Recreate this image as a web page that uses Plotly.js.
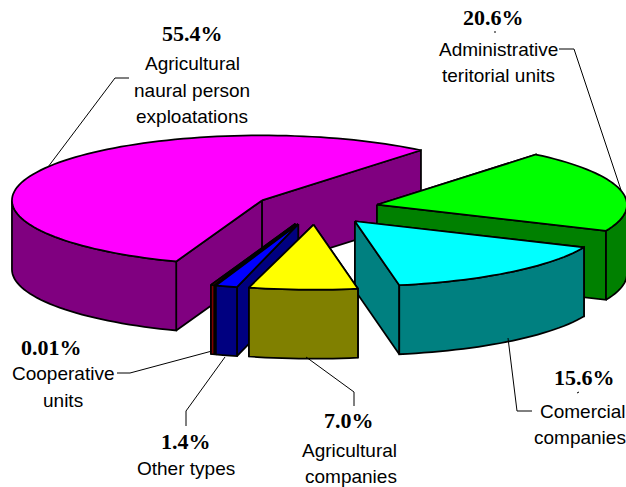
<!DOCTYPE html>
<html><head><meta charset="utf-8">
<script src="https://cdn.plot.ly/plotly-3.0.1.min.js"></script>
<style>html,body{margin:0;padding:0;background:#fff}#c{width:626px;height:487px}</style>
</head><body><div id="c"></div>
<script>
// DATA
const categories = ["Agricultural naural person exploatations","Cooperative units","Other types","Agricultural companies","Comercial companies","Administrative teritorial units"];
const shares = [55.4, 0.01, 1.4, 7.0, 15.6, 20.6];
const pctLabels = ["55.4%","0.01%","1.4%","7.0%","15.6%","20.6%"];
const labelLines = [["Agricultural","naural person","exploatations"],["Cooperative","units"],["Other types"],["Agricultural","companies"],["Comercial","companies"],["Administrative","teritorial units"]];

// STYLE / PROJECTION
const topColors  = ["#FF00FF","#800000","#0000FF","#FFFF00","#00FFFF","#00FF00"];
const sideColors = ["#800080","#800000","#000080","#808000","#008080","#008000"];
const drawOrder = [0,5,4,1,2,3];
const angleNudge = [0,0.3,0.8,0,0,0];
const centre = [316.2,208.5], rx = 250, ry = 65, depth = 69, pull = 0.25, startDeg = 50.5, minSweep = 0.8;
const pctPos = [[192,33],[51,347],[186,441],[349,420],[584,377],[493,17]];
const linePos = [[[192,63],[192,90],[192,116]],[[63,373],[63,400]],[[186,468]],[[349,450],[351,476]],[[583,411],[580,437]],[[498,49],[498,75]]];
const leaders = [
  [[48,167],[115,78],[129,78]],
  [[212,351],[130,373],[117,373]],
  [[225,357],[186,411],[186,426]],
  [[306,357],[354,392],[354,406]],
  [[508,338],[517,411],[532,411]],
  [[559,49],[574,49],[621,190]],
  [[494,32],[496,32]],
  [[577,393],[579,392]]
];

const rad = d => d*Math.PI/180;
const traces = [];
function poly(pts, fill){
  traces.push({type:"scatter",mode:"lines",x:pts.map(p=>p[0]),y:pts.map(p=>p[1]),fill:"toself",fillcolor:fill,
    line:{color:"#000",width:1.75,simplify:false},hoverinfo:"skip",showlegend:false});
}
let acc = startDeg;
const slices = shares.map((s,i)=>{ const a = acc+angleNudge[i], sweep = s*3.6; acc += sweep; return {a, b:a+Math.max(sweep,minSweep)}; });
drawOrder.forEach(i=>{
  const {a,b} = slices[i], m = rad((a+b)/2);
  const ax = centre[0]+pull*rx*Math.cos(m), ay = centre[1]-pull*ry*Math.sin(m);
  const P = t => [ax+rx*Math.cos(rad(t)), ay-ry*Math.sin(rad(t))];
  const down = p => [p[0],p[1]+depth];
  const apex = [ax,ay];
  const wall = t => { const q = P(t); return [apex,q,down(q),down(apex),apex]; };
  const walls = [a,b].sort((u,v)=>P(u)[1]-P(v)[1]);
  walls.forEach(t=>poly(wall(t),sideColors[i]));
  // visible rim: the front half of the ellipse (180..360 degrees)
  const lo = Math.max(a,180), hi = Math.min(b,360);
  if(hi>lo){
    const arc=[]; const n=Math.ceil((hi-lo)/2);
    for(let k=0;k<=n;k++) arc.push(P(lo+(hi-lo)*k/n));
    poly(arc.concat(arc.slice().reverse().map(down),[arc[0]]),sideColors[i]);
  }
  const top=[apex]; const n=Math.ceil((b-a)/2);
  for(let k=0;k<=n;k++) top.push(P(a+(b-a)*k/n));
  top.push(apex);
  poly(top,topColors[i]);
});
leaders.forEach(l=>traces.push({type:"scatter",mode:"lines",x:l.map(p=>p[0]),y:l.map(p=>p[1]),
  line:{color:"#000",width:1},hoverinfo:"skip",showlegend:false}));

const annotations=[];
pctLabels.forEach((t,i)=>annotations.push({x:pctPos[i][0],y:pctPos[i][1],text:"<b>"+t+"</b>",showarrow:false,xanchor:"center",yanchor:"middle",
  font:{family:"Liberation Serif",size:22,color:"#000"}}));
labelLines.forEach((ls,i)=>ls.forEach((t,j)=>annotations.push({x:linePos[i][j][0],y:linePos[i][j][1],text:t,showarrow:false,xanchor:"center",yanchor:"middle",
  font:{family:"Liberation Sans",size:19,color:"#000"}})));

Plotly.newPlot("c",traces,{
  width:626,height:487,margin:{l:0,r:0,t:0,b:0},paper_bgcolor:"#fff",plot_bgcolor:"#fff",showlegend:false,
  xaxis:{range:[0,626],visible:false,fixedrange:true},
  yaxis:{range:[487,0],visible:false,fixedrange:true},
  annotations
},{staticPlot:true,displayModeBar:false});
</script></body></html>
